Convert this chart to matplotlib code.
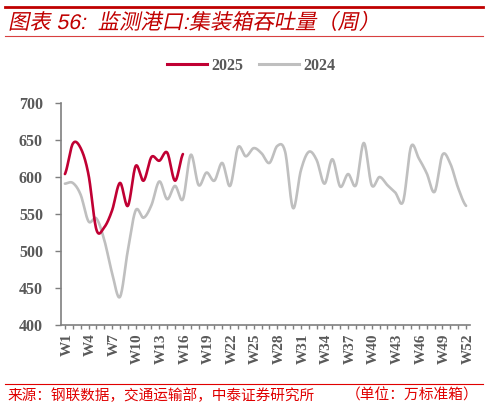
import numpy as np
import matplotlib
matplotlib.use("Agg")
import matplotlib.pyplot as plt
from matplotlib.lines import Line2D
from matplotlib.patheffects import AbstractPathEffect
from matplotlib.transforms import Affine2D, ScaledTranslation

plt.rcParams['font.family'] = ['Liberation Serif', 'Noto Sans CJK SC', 'DejaVu Sans']

W, H = 488, 407

TITLE = "图表 56:  监测港口:集装箱吞吐量（周）"
SOURCE = "来源：钢联数据，交通运输部，中泰证券研究所"
UNIT = "（单位：万标准箱）"
weeks = [f"W{i}" for i in range(1, 53)]
yticks = [400, 450, 500, 550, 600, 650, 700]

v2025 = [604, 645, 639, 603, 529, 532, 555, 592, 561, 615, 595, 627, 622, 633, 595, 631]
v2024 = [591, 592, 576, 540, 544, 515, 470, 438, 501, 555, 545, 562, 594, 570, 588, 570,
         630, 589, 606, 595, 619, 588, 640, 628, 639, 632, 619, 642, 634, 558, 609, 634,
         623, 591, 624, 587, 604, 589, 646, 589, 600, 589, 579, 567, 641, 625, 605, 580,
         630, 618, 585, 561]

RED = "#C00000"
LINE_2025 = "#C00033"
LINE_2024 = "#BFBFBF"
GREY = "#7F7F7F"
TEXT = "#595959"


class Slant(AbstractPathEffect):
    """shear the glyphs, the CJK fonts here have no italic"""
    def __init__(self, deg=12):
        super().__init__()
        self.deg = deg

    def draw_path(self, renderer, gc, tpath, affine, rgbFace=None):
        renderer.draw_path(gc, tpath, Affine2D().skew_deg(self.deg, 0) + affine, rgbFace)


def smooth(vals, n=16):
    # Catmull-Rom, same look as an Excel smoothed line
    p = np.asarray(vals, float)
    x = np.arange(1, len(p) + 1, dtype=float)
    pts = np.concatenate([[p[0]], p, [p[-1]]])
    xs, ys = [], []
    for i in range(len(p) - 1):
        t = np.linspace(0, 1, n, endpoint=False)
        a, b, c, d = pts[i], pts[i + 1], pts[i + 2], pts[i + 3]
        ys.append(0.5 * (2 * b + (c - a) * t + (2 * a - 5 * b + 4 * c - d) * t**2
                         + (3 * b - a - 3 * c + d) * t**3))
        xs.append(x[i] + t)
    return np.append(np.concatenate(xs), x[-1]), np.append(np.concatenate(ys), p[-1])


def fx(px):
    return px / W


def fy(px):
    return 1 - px / H


fig = plt.figure(figsize=(W / 100, H / 100), dpi=100, facecolor="white")
ax = fig.add_axes([fx(61), fy(325), fx(470) - fx(61), fy(103) - fy(325)])

x24, y24 = smooth(v2024)
x25, y25 = smooth(v2025)
ax.plot(x24, y24, color=LINE_2024, lw=1.9, solid_capstyle="round", label="2024")
ax.plot(x25, y25, color=LINE_2025, lw=1.9, solid_capstyle="round", label="2025")

ax.set_xlim(0.5, 52.5)
ax.set_ylim(400, 700)
ax.set_yticks(yticks)
ax.set_xticks(range(1, 53))
ax.set_xticklabels([w if i % 3 == 0 or w == "W52" else "" for i, w in enumerate(weeks)],
                   rotation=90, fontsize=11, fontweight="bold", color=TEXT)
ax.tick_params(axis="x", length=3, width=1, color=GREY, pad=3)
ax.tick_params(axis="y", length=4, width=1, color=GREY, pad=9, labelsize=11.5, labelcolor=TEXT)
shift = ScaledTranslation(2 / 100, 0, fig.dpi_scale_trans)
for lab in ax.get_xticklabels():
    lab.set_transform(lab.get_transform() + shift)
for lab in ax.get_yticklabels():
    lab.set_fontweight("bold")
for s in ["top", "right"]:
    ax.spines[s].set_visible(False)
for s in ["left", "bottom"]:
    ax.spines[s].set_color(GREY)
    ax.spines[s].set_linewidth(1.2)

handles = [Line2D([], [], color=LINE_2025, lw=2.2), Line2D([], [], color=LINE_2024, lw=2.2)]
fig.legend(handles, ["2025", "2024"], ncol=2, loc="center", bbox_to_anchor=(fx(251), fy(66)),
           frameon=False, labelcolor=TEXT, handlelength=2.55, handletextpad=0.25,
           columnspacing=0.95, borderpad=0, prop={"weight": "bold", "size": 11.5})

# report-style rules and captions
fig.add_artist(Line2D([fx(5), fx(483)], [fy(6.5)] * 2, color=RED, lw=2.0))
fig.add_artist(Line2D([fx(5), fx(483)], [fy(35.5)] * 2, color="#D84040", lw=0.8))
fig.add_artist(Line2D([fx(5), fx(483)], [fy(384)] * 2, color="#E00000", lw=0.8))
t = fig.text(fx(8), fy(29), TITLE, color=RED, fontsize=15.3, va="baseline", ha="left",
             family=["Liberation Sans", "Noto Sans CJK SC"])
t.set_path_effects([Slant(12)])
fig.text(fx(7), fy(400), SOURCE, color="#E00000", fontsize=10.55, va="baseline", ha="left",
         family=["Liberation Serif", "Noto Sans CJK SC"])
fig.text(fx(478), fy(400), UNIT, color="#E00000", fontsize=10.6, va="baseline", ha="right",
         family=["Liberation Serif", "Noto Sans CJK SC"])

fig.savefig("out.png", dpi=100)
